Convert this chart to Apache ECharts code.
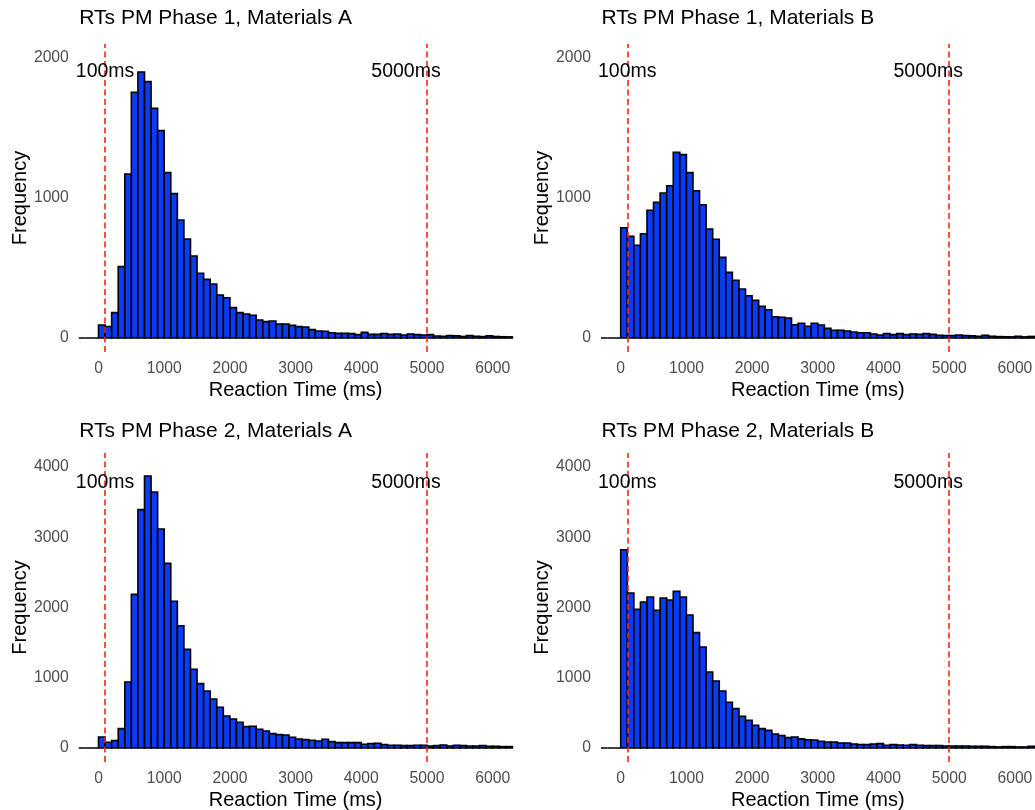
<!DOCTYPE html>
<html>
<head>
<meta charset="utf-8">
<script src="https://cdn.jsdelivr.net/npm/echarts@6/dist/echarts.min.js"></script>
<style>
  html, body { margin: 0; padding: 0; background: #ffffff; }
  #chart { width: 1035px; height: 810px; }
</style>
</head>
<body>
<div id="chart"></div>
<script>
// Histogram bins: 100 ms wide, first bin starts at -300 ms (three empty bins before 0)
const BIN_START = -300;
const BIN_WIDTH = 100;

// Counts per bin, -300 ms .. 6300 ms
const countsPhase1A = [0, 0, 0,
  93, 82, 181, 510, 1171, 1755, 1900, 1831, 1640, 1481,
  1181, 1031, 843, 707, 586, 462, 419, 386, 307, 288,
  217, 181, 171, 162, 129, 117, 121, 100, 100, 90,
  81, 79, 60, 50, 48, 38, 33, 33, 31, 24,
  40, 26, 26, 31, 26, 29, 21, 29, 24, 21,
  24, 14, 12, 17, 15, 11, 17, 12, 10, 15,
  11, 9, 8];

const countsPhase1B = [0, 0, 0,
  788, 726, 662, 745, 912, 969, 1036, 1088, 1326, 1310,
  1181, 1052, 952, 779, 705, 576, 469, 412, 350, 302,
  269, 226, 202, 152, 148, 143, 95, 105, 84, 105,
  93, 69, 55, 55, 50, 43, 38, 38, 29, 21,
  31, 24, 31, 24, 29, 26, 31, 26, 19, 17,
  17, 21, 17, 15, 12, 19, 12, 10, 9, 8,
  12, 8, 11];

const countsPhase2A = [0, 0, 0,
  157, 81, 104, 275, 940, 2187, 3393, 3872, 3644, 3117,
  2629, 2088, 1741, 1404, 1120, 916, 811, 698, 579, 456,
  413, 365, 304, 308, 266, 242, 204, 190, 185, 152,
  128, 119, 109, 100, 123, 90, 76, 76, 76, 76,
  52, 62, 66, 47, 38, 38, 33, 33, 38, 38,
  28, 33, 43, 28, 38, 33, 28, 28, 33, 24,
  24, 19, 19];

const countsPhase2B = [0, 0, 0,
  2823, 2206, 1974, 2078, 2150, 1960, 2135, 2107, 2230, 2150,
  1893, 1642, 1438, 1082, 954, 811, 650, 560, 451, 394,
  323, 275, 251, 199, 175, 147, 157, 130, 116, 114,
  95, 85, 85, 71, 71, 57, 47, 47, 57, 62,
  38, 47, 43, 38, 47, 38, 33, 33, 33, 28,
  28, 28, 28, 24, 24, 24, 19, 14, 19, 19,
  14, 14, 24];

const panelTitles = [
  'RTs PM Phase 1, Materials A',
  'RTs PM Phase 1, Materials B',
  'RTs PM Phase 2, Materials A',
  'RTs PM Phase 2, Materials B'
];

// Cut-off markers (ms) and where their labels sit on the count axis
const cutoffs = [100, 5000];
const cutoffLabels = ['100ms', '5000ms'];
const cutoffLabelY = [1900, 1900, 3780, 3780];

const xTicks = [0, 1000, 2000, 3000, 4000, 5000, 6000];
const yTicksPhase1 = [0, 1000, 2000];
const yTicksPhase2 = [0, 1000, 2000, 3000, 4000];

const FONT = "'Liberation Sans', Arial, Helvetica, sans-serif";
const BAR_FILL = '#0a3cf7';
const CUT_COLOR = '#ff2418';

function toBins(counts) {
  return counts.map((c, i) => [BIN_START + i * BIN_WIDTH, BIN_START + (i + 1) * BIN_WIDTH, c]);
}

const plainNumber = v => String(v);

const allCounts = [countsPhase1A, countsPhase1B, countsPhase2A, countsPhase2B];

// Panel layout: two columns, two rows
const colLeft = [78.8, 601];
const rowTop = [44, 453];
const rowHeight = [308, 309];
const panelWidth = 433.6;
const yRange = [[-100, 2100], [-200, 4200]];

const grids = [], xAxes = [], yAxes = [], titles = [], series = [];

for (let p = 0; p < 4; p++) {
  const row = Math.floor(p / 2), col = p % 2;
  grids.push({
    left: colLeft[col], top: rowTop[row], width: panelWidth, height: rowHeight[row],
    containLabel: false, outerBoundsMode: 'none'
  });
  titles.push({
    text: panelTitles[p],
    left: colLeft[col] - 4.5,
    top: row === 0 ? 2.5 : 416,
    textStyle: { fontFamily: FONT, fontSize: 21, fontWeight: 'normal', color: '#000000' }
  });
  xAxes.push({
    type: 'value', gridIndex: p, min: -300, max: 6300,
    axisLine: { show: false, onZero: false },
    axisTick: { show: false },
    splitLine: { show: false },
    axisLabel: {
      customValues: xTicks, formatter: plainNumber,
      color: '#4d4d4d', fontFamily: FONT, fontSize: 15.7, margin: 9
    },
    name: 'Reaction Time (ms)', nameLocation: 'middle', nameGap: 28,
    nameTextStyle: { fontFamily: FONT, fontSize: 20, color: '#000000' }
  });
  yAxes.push({
    type: 'value', gridIndex: p, min: yRange[row][0], max: yRange[row][1],
    axisLine: { show: false, onZero: false },
    axisTick: { show: false },
    splitLine: { show: false },
    axisLabel: {
      customValues: row === 0 ? yTicksPhase1 : yTicksPhase2, formatter: plainNumber,
      color: '#4d4d4d', fontFamily: FONT, fontSize: 15.7, margin: 10
    },
    name: 'Frequency', nameLocation: 'middle', nameGap: 48,
    nameTextStyle: { fontFamily: FONT, fontSize: 20, color: '#000000' }
  });

  series.push({
    type: 'custom',
    xAxisIndex: p, yAxisIndex: p,
    data: toBins(allCounts[p]),
    encode: { x: [0, 1], y: 2 },
    renderItem: function (params, api) {
      const lo = api.coord([api.value(0), 0]);
      const hi = api.coord([api.value(1), api.value(2)]);
      return {
        type: 'rect',
        shape: { x: lo[0], y: hi[1], width: hi[0] - lo[0], height: lo[1] - hi[1] },
        style: { fill: BAR_FILL, stroke: '#000000', lineWidth: 1.6 }
      };
    },
    markLine: {
      silent: true,
      symbol: ['none', 'none'],
      label: { show: false },
      emphasis: { disabled: true },
      lineStyle: { color: CUT_COLOR, type: [6, 3.5], width: 1.6, opacity: 1 },
      data: cutoffs.map(v => ({ xAxis: v, lineStyle: { color: CUT_COLOR, opacity: 1 } })),
      animation: false
    },
    animation: false
  });

  series.push({
    type: 'scatter',
    xAxisIndex: p, yAxisIndex: p,
    symbolSize: 0,
    silent: true,
    data: cutoffs.map((v, i) => ({
      value: [v, cutoffLabelY[p], cutoffLabels[i]],
      label: { offset: i === 1 ? [-21, 0] : [0, 0], color: '#000000' }
    })),
    label: {
      show: true, position: 'inside',
      formatter: prm => prm.value[2],
      fontFamily: FONT, fontSize: 19.5, color: '#000000',
      textBorderWidth: 0, opacity: 1
    },
    z: 5,
    animation: false
  });
}

const chart = echarts.init(document.getElementById('chart'), null, { renderer: 'canvas' });
chart.setOption({
  backgroundColor: '#ffffff',
  animation: false,
  title: titles,
  grid: grids,
  xAxis: xAxes,
  yAxis: yAxes,
  series: series
});
</script>
</body>
</html>
